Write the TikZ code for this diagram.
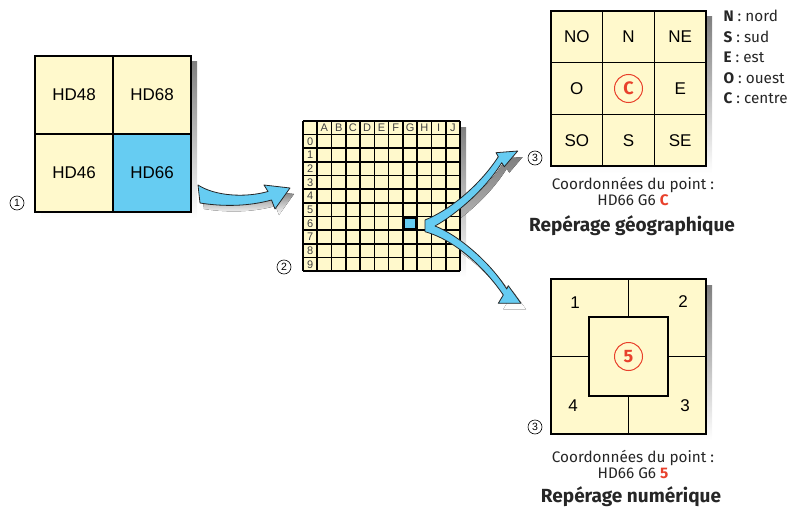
\documentclass[tikz,border=0pt]{standalone}
\usepackage{fontspec}
\setmainfont{Fira Sans}
\newfontfamily\arialfont{Liberation Sans}
\usetikzlibrary{positioning}
\definecolor{paper}{HTML}{FFF9CC}
\definecolor{skyblue}{HTML}{66CCF2}
\definecolor{shade}{HTML}{C9BFBA}
\definecolor{mark}{HTML}{E8412C}

\begin{document}
\begin{tikzpicture}[x=1pt, y=-1pt,
    cell/.style={draw, line width=1.5pt, fill=paper, minimum width=78pt,
                 minimum height=78pt, font=\arialfont\fontsize{17}{20}\selectfont},
    geocell/.style={draw, line width=1.5pt, fill=paper, minimum width=51.7pt,
                    minimum height=51.7pt, font=\arialfont\fontsize{17}{20}\selectfont},
    numtxt/.style={font=\arialfont\fontsize{17}{20}\selectfont},
    hdr/.style={font=\arialfont\fontsize{11}{11}\selectfont, text=black!75},
    gridline/.style={line width=1.7pt},
    circnum/.style={circle, draw, line width=0.6pt, inner sep=0pt,
                    minimum size=14pt, font=\arialfont\fontsize{10.5}{10}\selectfont},
    redmark/.style={circle, draw=mark, line width=1pt, minimum size=28pt,
                    inner sep=0pt, text=mark, font=\fontsize{18}{20}\selectfont\bfseries},
    captxt/.style={font=\fontsize{15.3}{17}\selectfont, text=black!85},
    title/.style={font=\fontsize{19}{22}\selectfont\bfseries, text=black!85},
    legend/.style={anchor=west, font=\fontsize{15.3}{17}\selectfont, text=black!85},
    blueshape/.style={fill=skyblue, draw=black!85, line width=0.8pt, line join=round}
  ]
  \useasboundingbox (0,0) rectangle (790,511);

  % Shadows
  \fill[shade] (41,62) rectangle (197,218);
  \fill[shade] (309,127) rectangle (466,277);
  \fill[shade] (557,17) rectangle (712,173);
  \fill[shade] (557,285) rectangle (712,440);
  \fill[shade, shift={(4,6)}] (198,185) .. controls (215,196) and (245,198) .. (268,191.5)
      -- (264,185) -- (290,188) -- (275,209) -- (271.5,200)
      .. controls (250,206) and (225,207) .. (200,203) -- cycle;
  \fill[shade, shift={(5,6)}] (425,220) .. controls (450,210) and (480,185) .. (498.3,156.7)
      -- (496,152.7) -- (517.7,151) -- (504.3,166.7) -- (501.7,162.7)
      .. controls (485,190) and (455,215) .. (435,226)
      .. controls (458,235) and (490,262) .. (506.7,289)
      -- (508.3,285.7) -- (521,303.3) -- (498.3,303.3) -- (503.3,295)
      .. controls (485,268) and (455,240) .. (425,231.7) -- cycle;

  % Panel 1: map sheets
  \node[cell] (hd48) at (74,95) {HD48};
  \node[cell] (hd68) at (152,95) {HD68};
  \node[cell] (hd46) at (74,173) {HD46};
  \node[cell, fill=skyblue, line width=2.5pt] (hd66) at (152,173) {HD66};
  \node[circnum] (n1) at (17,203) {1};

  % Panel 2: 10 x 10 grid
  \fill[paper] (303,121) rectangle (460,271);
  \foreach \i in {0,...,11} {
    \draw[gridline] ({303+\i*14.27},121) -- ({303+\i*14.27},271);
    \draw[gridline] (303,{121+\i*13.64}) -- (460,{121+\i*13.64});
  }
  \foreach \l [count=\i] in {A,B,C,D,E,F,G,H,I,J}
    \node[hdr] (col\l) at ({303+(\i+0.5)*14.27},128) {\l};
  \foreach \r in {0,...,9}
    \node[hdr] (row\r) at (310.1,{121+(\r+1.5)*13.64}) {\r};
  \node[draw, line width=2.2pt, fill=skyblue, minimum width=12pt,
        minimum height=11.5pt, inner sep=0pt] (g6) at (410,223.3) {};
  \node[circnum] (n2) at (284,267) {2};

  % Arrows
  \draw[blueshape] (198,185) .. controls (215,196) and (245,198) .. (268,191.5)
      -- (264,185) -- (290,188) -- (275,209) -- (271.5,200)
      .. controls (250,206) and (225,207) .. (200,203) -- cycle;
  \draw[blueshape] (425,220) .. controls (450,210) and (480,185) .. (498.3,156.7)
      -- (496,152.7) -- (517.7,151) -- (504.3,166.7) -- (501.7,162.7)
      .. controls (485,190) and (455,215) .. (435,226)
      .. controls (458,235) and (490,262) .. (506.7,289)
      -- (508.3,285.7) -- (521,303.3) -- (498.3,303.3) -- (503.3,295)
      .. controls (485,268) and (455,240) .. (425,231.7) -- cycle;

  % Panel 3: geographic
  \node[geocell] (no) at (576.8,36.8) {NO};
  \node[geocell] (n)  at (628.5,36.8) {N};
  \node[geocell] (ne) at (680.2,36.8) {NE};
  \node[geocell] (o)  at (576.8,88.5) {O};
  \node[geocell] (c)  at (628.5,88.5) {};
  \node[geocell] (e)  at (680.2,88.5) {E};
  \node[geocell] (so) at (576.8,140.2) {SO};
  \node[geocell] (s)  at (628.5,140.2) {S};
  \node[geocell] (se) at (680.2,140.2) {SE};
  \node[redmark] (cmark) at (c) {C};
  \node[circnum] (n3a) at (535,158) {3};
  \node[legend] (leg1) at (720,16) {\textbf{N} : nord};
  \node[legend] (leg2) at (720,36.5) {\textbf{S} : sud};
  \node[legend] (leg3) at (720,57) {\textbf{E} : est};
  \node[legend] (leg4) at (720,78) {\textbf{O} : ouest};
  \node[legend] (leg5) at (720,98) {\textbf{C} : centre};
  \node[captxt] (geo1) at (633,185) {Coordonnées du point :};
  \node[captxt] (geo2) at (633,200.5) {HD66 G6 \textcolor{mark}{\bfseries C}};
  \node[title] (geo3) at (632,226) {Repérage géographique};

  % Panel 4: numeric
  \node[draw, line width=1.5pt, fill=paper, minimum size=155pt] (num) at (628.5,356.5) {};
  \node[draw, line width=1.5pt, fill=paper, minimum size=79pt] (numin) at (628.5,356.5) {};
  \draw[line width=1.5pt] (num.north) -- (numin.north);
  \draw[line width=1.5pt] (num.south) -- (numin.south);
  \draw[line width=1.5pt] (num.west) -- (numin.west);
  \draw[line width=1.5pt] (num.east) -- (numin.east);
  \node[numtxt] (q1) at (575,303) {1};
  \node[numtxt] (q2) at (683,302) {2};
  \node[numtxt] (q3) at (685,406) {3};
  \node[numtxt] (q4) at (573,406) {4};
  \node[redmark] (fmark) at (numin) {5};
  \node[circnum] (n3b) at (535,427) {3};
  \node[captxt] (num1) at (633,458) {Coordonnées du point :};
  \node[captxt] (num2) at (633,473.5) {HD66 G6 \textcolor{mark}{\bfseries 5}};
  \node[title] (num3) at (631,497) {Repérage numérique};
\end{tikzpicture}
\end{document}
